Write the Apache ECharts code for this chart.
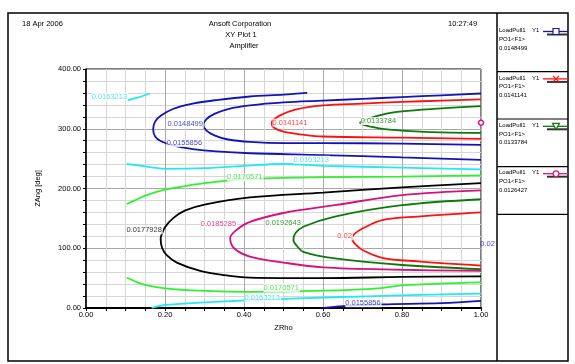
<!DOCTYPE html>
<html><head><meta charset="utf-8">
<script src="https://cdn.jsdelivr.net/npm/echarts@6/dist/echarts.min.js"></script>
<style>html,body{margin:0;padding:0;background:#fff}#c{width:575px;height:364px}</style>
</head><body><div id="c"></div>
<script>
// ---- data ----
const xTicks = [0, 0.2, 0.4, 0.6, 0.8, 1.0];
const yTicks = [0, 100, 200, 300, 400];
const headerTexts = ['18 Apr 2006', 'Ansoft Corporation', 'XY Plot 1', 'Amplifier', '10:27:49'];
const xName = 'ZRho';
const yName = 'ZAng [deg]';

const c0148499 = [[1.0,359],[0.9,356],[0.8,353],[0.7,350],[0.6,347],[0.5,344],[0.415,339],[0.36,333],[0.325,325],[0.305,316],[0.297,306],[0.305,297],[0.325,289],[0.36,282],[0.415,278],[0.5,276],[0.6,276],[0.8,275],[1.0,273]];
const c0155856a = [[0.56,360],[0.5,357],[0.415,354],[0.33,348],[0.27,342],[0.22,333],[0.19,322],[0.175,312],[0.17,299],[0.175,287],[0.19,279],[0.22,272],[0.27,266],[0.33,262],[0.415,259],[0.6,256],[0.8,252],[1.0,248]];
const c0155856b = [[0.6,0],[0.65,3],[0.75,6],[0.9,8],[1.0,12]];
const c0141141 = [[1.0,349],[0.9,347],[0.8,345],[0.7,342],[0.6,339],[0.53,332],[0.49,322],[0.472,313],[0.47,309],[0.475,302],[0.5,295],[0.55,290],[0.6,287],[0.8,285],[1.0,283]];
const c0133784 = [[1.0,338],[0.9,334],[0.8,329],[0.74,322],[0.694,310],[0.74,301],[0.8,297],[0.9,294],[1.0,293]];
const c0126427 = [[1.0,310]];
const c0163213a = [[0.103,347],[0.13,352],[0.162,359]];
const c0163213b = [[0.103,241],[0.15,237],[0.2,233],[0.3,234],[0.4,238],[0.5,241],[0.6,238],[0.8,235],[1.0,232]];
const c0163213c = [[0.166,0],[0.2,5],[0.289,9],[0.415,13],[0.626,18],[0.795,21],[1.0,24]];
const c0170571a = [[0.103,174],[0.13,182],[0.154,189],[0.2,198],[0.25,204],[0.3,209],[0.415,216],[0.6,219],[0.8,220],[1.0,222]];
const c0170571b = [[0.103,51],[0.13,43],[0.154,38],[0.2,33],[0.289,29],[0.415,27],[0.6,29],[0.74,33],[0.8,38],[1.0,43]];
const c0177928 = [[1.0,209],[0.8,202],[0.6,193],[0.415,185],[0.3,173],[0.25,163],[0.22,150],[0.2,135],[0.19,120],[0.189,115],[0.193,100],[0.205,88],[0.23,76],[0.289,62],[0.35,55],[0.415,51],[0.6,50],[0.8,52],[1.0,53]];
const c0185285 = [[1.0,197],[0.8,189],[0.63,172],[0.5,159],[0.415,144],[0.38,130],[0.365,117],[0.375,100],[0.415,86],[0.5,76],[0.6,68],[0.8,64],[1.0,62]];
const c0192643 = [[1.0,182],[0.8,172],[0.63,153],[0.55,136],[0.53,125],[0.525,114],[0.535,103],[0.55,94],[0.63,83],[0.8,72],[1.0,65]];
const c02 = [[1.0,160],[0.84,153],[0.75,147],[0.7,133],[0.68,124],[0.673,117],[0.68,108],[0.7,97],[0.75,84],[0.84,78],[1.0,71]];

// contour label annotations: text, x, y, group
const contourLabels = [
  ['0.0163213', 0.013, 353, '0.0163213'],
  ['0.0148499', 0.205, 308, '0.0148499'],
  ['0.0155856', 0.203, 276, '0.0155856'],
  ['0.0141141', 0.471, 310, '0.0141141'],
  ['0.0133784', 0.694, 313, '0.0133784'],
  ['0.0163213', 0.524, 248, '0.0163213'],
  ['0.0170571', 0.356, 219, '0.0170571'],
  ['0.0177928', 0.101, 130, '0.0177928'],
  ['0.0185285', 0.289, 141, '0.0185285'],
  ['0.0192643', 0.453, 142, '0.0192643'],
  ['0.02', 0.635, 120, '0.02'],
  ['0.0170571', 0.448, 33, '0.0170571'],
  ['0.0163213', 0.40, 17, '0.0163213'],
  ['0.0155856', 0.655, 8, '0.0155856'],
  ['0.02', 0.997, 107, 'edge']
];
const legendLevels = ['0.0148499', '0.0141141', '0.0133784', '0.0126427'];
const legendTraceName = 'LoadPull1';
const legendY = 'Y1';
const legendExpr = 'PO1<F1>';

// ---- styles ----
const levelColor = {
  '0.0126427': '#e0147f', '0.0133784': '#0a7a0a', '0.0141141': '#ff1010',
  '0.0148499': '#1414b4', '0.0155856': '#1414b4', '0.0163213': '#22e8f4',
  '0.0170571': '#30f030', '0.0177928': '#000000', '0.0185285': '#d8107a',
  '0.0192643': '#0a7a0a', '0.02': '#ff1010', 'edge': '#1414d0'
};
const labelColor = Object.assign({}, levelColor, {'0.0163213': '#30d8f0', '0.0170571': '#30d830'});
const legendMarkers = ['rect', 'x', 'tri', 'circle'];

const contours = [
  ['0.0148499', c0148499], ['0.0155856', c0155856a], ['0.0155856', c0155856b],
  ['0.0141141', c0141141], ['0.0133784', c0133784],
  ['0.0163213', c0163213a], ['0.0163213', c0163213b], ['0.0163213', c0163213c],
  ['0.0170571', c0170571a], ['0.0170571', c0170571b],
  ['0.0177928', c0177928], ['0.0185285', c0185285], ['0.0192643', c0192643], ['0.02', c02]
];

const FONT = 'Liberation Sans';
const series = contours.map(([lv, pts]) => ({
  type: 'line', name: lv, data: pts, smooth: 0.35, showSymbol: false, silent: true,
  lineStyle: {color: levelColor[lv], width: 1.8}, z: 3
}));
series.push({
  type: 'line', name: '0.0126427', data: c0126427, showSymbol: true, symbol: 'circle', symbolSize: 5,
  clip: false, itemStyle: {color: '#fff', borderColor: levelColor['0.0126427'], borderWidth: 1.5}, z: 5
});
series.push({
  type: 'scatter', symbol: 'circle', symbolSize: 1, silent: true, clip: false, z: 10,
  itemStyle: {color: 'rgba(0,0,0,0)'},
  data: contourLabels.map(([t, x, y, g]) => ({
    value: [x, y], name: t,
    label: {show: true, position: 'right', distance: 0, formatter: t,
      color: labelColor[g], fontFamily: FONT, fontSize: 7.5,
      backgroundColor: g === 'edge' ? 'transparent' : '#fff', padding: [0, 1, 0, 0]}
  }))
});

// ---- frame & legend panel graphics ----
const graphic = [];
graphic.push({type: 'rect', shape: {x: 8, y: 13, width: 560, height: 348}, style: {fill: 'none', stroke: '#000', lineWidth: 1.5}, silent: true});
graphic.push({type: 'line', shape: {x1: 497, y1: 13, x2: 497, y2: 361}, style: {stroke: '#000', lineWidth: 1.5}, silent: true});
[71.7, 119, 166.7, 214.3].forEach(y => graphic.push({type: 'line', shape: {x1: 497, y1: y, x2: 568, y2: y}, style: {stroke: '#000', lineWidth: 1.2}, silent: true}));
const hdr = (t, x, y, align) => ({type: 'text', x, y, silent: true, style: {text: t, fill: '#000', font: '7.5px ' + FONT, textAlign: align, textVerticalAlign: 'middle'}});
graphic.push(hdr(headerTexts[0], 22, 24, 'left'));
graphic.push(hdr(headerTexts[1], 240, 24, 'center'));
graphic.push(hdr(headerTexts[2], 241, 35, 'center'));
graphic.push(hdr(headerTexts[3], 244, 46, 'center'));
graphic.push(hdr(headerTexts[4], 448, 24, 'left'));
legendLevels.forEach((lv, i) => {
  const y0 = 30.5 + i * 47.4;
  const col = levelColor[lv];
  const sm = (t, x, y) => ({type: 'text', x, y, silent: true, style: {text: t, fill: '#000', font: '6px ' + FONT, textAlign: 'left', textVerticalAlign: 'middle'}});
  graphic.push(sm(legendTraceName, 499, y0));
  graphic.push(sm(legendY, 532, y0));
  graphic.push(sm(legendExpr, 499, y0 + 8.7));
  graphic.push(sm(lv, 499, y0 + 17.4));
  graphic.push({type: 'line', shape: {x1: 547, y1: y0 + 4, x2: 568, y2: y0 + 4}, style: {stroke: '#333', lineWidth: 2}, silent: true});
  graphic.push({type: 'line', shape: {x1: 543, y1: y0 + 1, x2: 568, y2: y0 + 1}, style: {stroke: col, lineWidth: 1.3}, silent: true});
  const mx = 556, my = y0 + 1;
  const m = legendMarkers[i];
  if (m === 'rect') graphic.push({type: 'rect', shape: {x: mx - 3, y: my - 3, width: 6, height: 6}, style: {fill: '#fff', stroke: col, lineWidth: 1.2}, silent: true});
  else if (m === 'x') {
    graphic.push({type: 'line', shape: {x1: mx - 3, y1: my - 3, x2: mx + 3, y2: my + 3}, style: {stroke: col, lineWidth: 1.3}, silent: true});
    graphic.push({type: 'line', shape: {x1: mx - 3, y1: my + 3, x2: mx + 3, y2: my - 3}, style: {stroke: col, lineWidth: 1.3}, silent: true});
  } else if (m === 'tri') graphic.push({type: 'polygon', shape: {points: [[mx - 3.5, my - 3], [mx + 3.5, my - 3], [mx, my + 3]]}, style: {fill: '#fff', stroke: col, lineWidth: 1.2}, silent: true});
  else graphic.push({type: 'circle', shape: {cx: mx, cy: my, r: 2.8}, style: {fill: '#fff', stroke: col, lineWidth: 1.2}, silent: true});
});

const chart = echarts.init(document.getElementById('c'), null, {renderer: 'canvas'});
chart.setOption({
  animation: false,
  backgroundColor: '#fff',
  textStyle: {fontFamily: FONT},
  grid: {left: 86, top: 69, width: 395, height: 239, show: true, borderColor: '#000', borderWidth: 1, backgroundColor: 'transparent'},
  xAxis: {
    type: 'value', min: xTicks[0], max: xTicks[xTicks.length - 1], interval: xTicks[1] - xTicks[0],
    name: xName, nameLocation: 'middle', nameGap: 15, nameTextStyle: {color: '#000', fontSize: 7.5, fontFamily: FONT},
    axisLine: {show: true, lineStyle: {color: '#000', width: 2}},
    axisTick: {show: true, length: 3, lineStyle: {color: '#000'}},
    minorTick: {show: true, splitNumber: 4, length: 3, lineStyle: {color: '#000'}},
    axisLabel: {color: '#000', fontSize: 7.5, fontFamily: FONT, margin: 3, formatter: v => v.toFixed(2)},
    splitLine: {show: true, lineStyle: {color: '#a8a8a8', width: 1}},
    minorSplitLine: {show: true, lineStyle: {color: '#d6d6d6', width: 1}}
  },
  yAxis: {
    type: 'value', min: yTicks[0], max: yTicks[yTicks.length - 1], interval: yTicks[1] - yTicks[0],
    name: yName, nameLocation: 'middle', nameGap: 44, nameRotate: 90, nameTextStyle: {color: '#000', fontSize: 7.5, fontFamily: FONT},
    axisLine: {show: true, lineStyle: {color: '#000', width: 1.5}},
    axisTick: {show: true, length: 3, lineStyle: {color: '#000'}},
    minorTick: {show: true, splitNumber: 5, length: 3, lineStyle: {color: '#000'}},
    axisLabel: {color: '#000', fontSize: 7.5, fontFamily: FONT, margin: 5, formatter: v => v.toFixed(2)},
    splitLine: {show: true, lineStyle: {color: '#a8a8a8', width: 1}},
    minorSplitLine: {show: true, lineStyle: {color: '#d6d6d6', width: 1}}
  },
  series,
  graphic
});
</script></body></html>
